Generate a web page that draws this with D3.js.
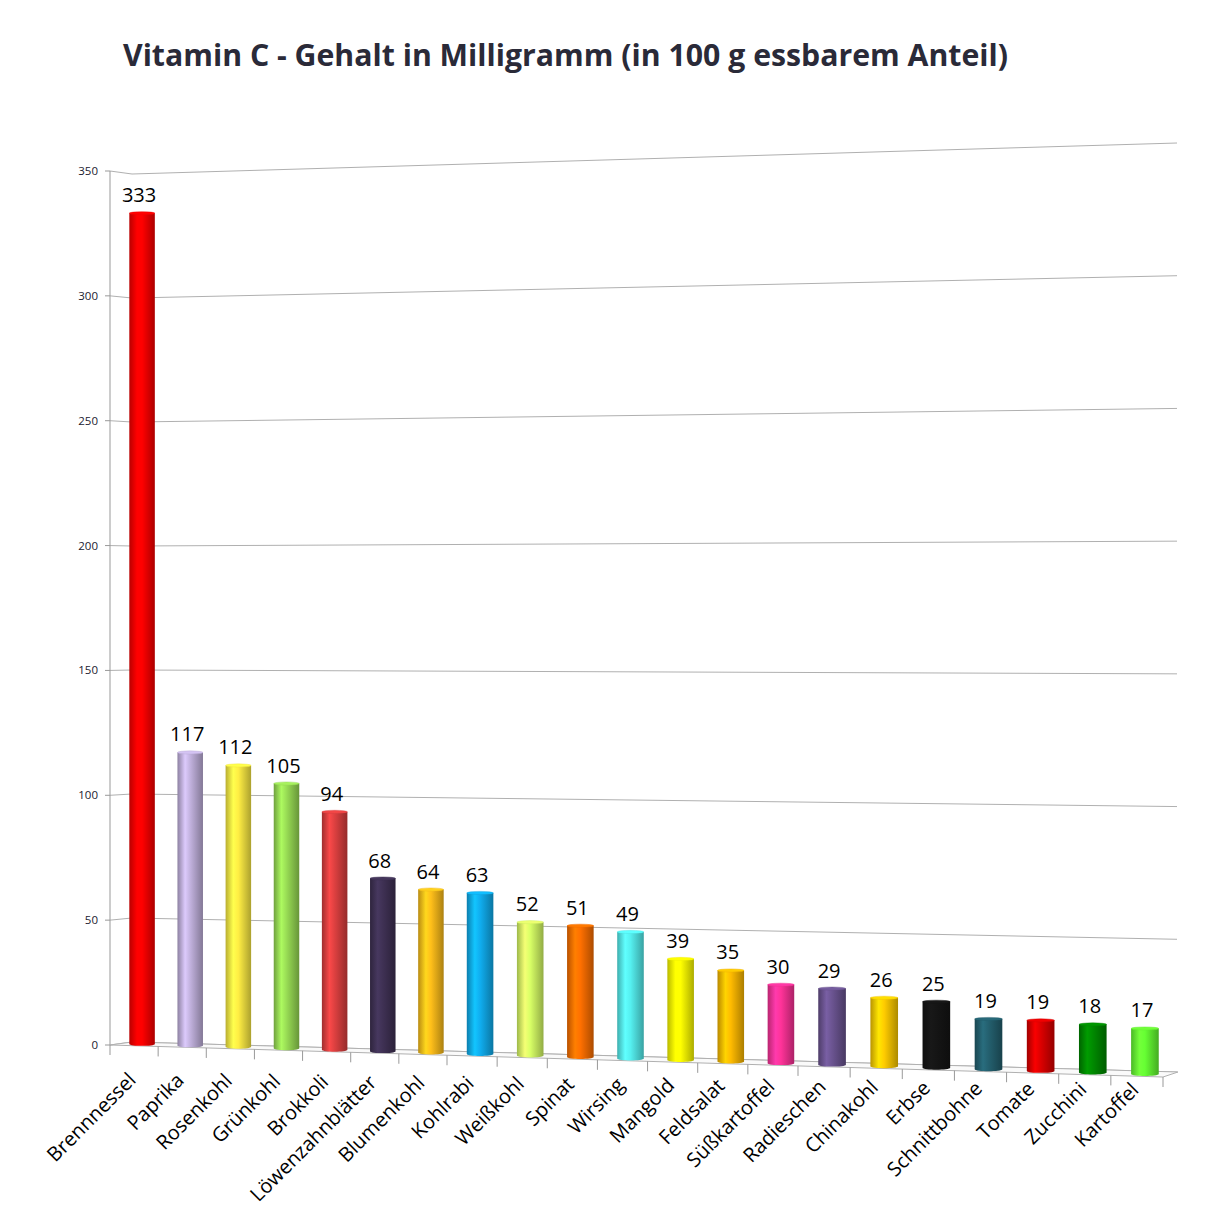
<!DOCTYPE html>
<html>
<head>
<meta charset="utf-8">
<script src="https://cdn.jsdelivr.net/npm/d3@7"></script>
<style>
  body { margin: 0; background: #fff; }
  text { font-family: "Open Sans", "DejaVu Sans", sans-serif; }
</style>
</head>
<body>
<script>
// data
const categories = ["Brennnessel", "Paprika", "Rosenkohl", "Grünkohl", "Brokkoli",
  "Löwenzahnblätter", "Blumenkohl", "Kohlrabi", "Weißkohl", "Spinat", "Wirsing",
  "Mangold", "Feldsalat", "Süßkartoffel", "Radieschen", "Chinakohl", "Erbse",
  "Schnittbohne", "Tomate", "Zucchini", "Kartoffel"];
const values = [333, 117, 112, 105, 94, 68, 64, 63, 52, 51, 49, 39, 35, 30, 29, 26, 25, 19, 19, 18, 17];
const colors = ["#ff0000", "#c2b2de", "#ffee44", "#99dd55", "#dd4040", "#3f3154", "#ffbf1a",
  "#10aef0", "#d8ff66", "#ff7000", "#55f0f0", "#ffff00", "#ffbb00", "#ff3399", "#6b5491",
  "#ffcc00", "#151515", "#24606f", "#dd0000", "#008a00", "#66ff33"];
const yTicks = [0, 50, 100, 150, 200, 250, 300, 350];
const title = "Vitamin C - Gehalt in Milligramm (in 100 g essbarem Anteil)";

const W = 1215, H = 1232;

const svg = d3.select("body").append("svg")
  .attr("width", W).attr("height", H);

// perspective: front edge tick positions along the category axis
const n = categories.length;
const frontX = d3.scaleLinear()
  .domain([0, 7, 14, n])
  .range([110, 447, 798, 1163]);
// floor front edge height as function of screen x
const floorY = d3.scaleLinear().domain([110, 1163]).range([1045, 1077]);
// bar base and pixels-per-unit change with x
const baseY = d3.scaleLinear().domain([144, 1143]).range([1044, 1074]);
const unitPx = d3.scaleLinear().domain([144, 1143]).range([2.495, 2.68]);

// value scales on the walls
const frontVal = d3.scaleLinear().domain([0, 350]).range([1045, 171]);   // x = 110
const backLeft = d3.scaleLinear().domain([0, 350]).range([1042, 174]);   // x = 132
const backRight = d3.scaleLinear().domain([0, 350]).range([1072, 143]);  // x = 1177

const grid = "#b0b0b0";

// gridlines: side wall segment + back wall line
const gl = svg.append("g").attr("fill", "none").attr("stroke", grid).attr("stroke-width", 1);
yTicks.forEach(v => {
  gl.append("path").attr("d", d3.line()([[110, frontVal(v)], [132, backLeft(v)], [1177, backRight(v)]]));
});

// y axis
svg.append("line").attr("x1", 110).attr("x2", 110)
  .attr("y1", frontVal(350)).attr("y2", frontVal(0)).attr("stroke", "#999");
const ya = svg.append("g");
yTicks.forEach(v => {
  ya.append("line").attr("x1", 105).attr("x2", 110)
    .attr("y1", frontVal(v)).attr("y2", frontVal(v)).attr("stroke", "#999");
  ya.append("text").attr("x", 98).attr("y", frontVal(v) + 4)
    .attr("text-anchor", "end").attr("font-size", 11.5).attr("fill", "#1a1a30").text(v);
});

// floor outline
svg.append("path")
  .attr("d", d3.line()([[132, backLeft(0)], [110, floorY(110)], [1163, floorY(1163)], [1178, backRight(0)], [132, backLeft(0)]]))
  .attr("fill", "#fafafa").attr("stroke", grid);

// category ticks below the front edge
d3.range(n + 1).forEach(k => {
  const x = frontX(k);
  svg.append("line").attr("x1", x).attr("x2", x)
    .attr("y1", floorY(x)).attr("y2", floorY(x) + 10).attr("stroke", "#999");
});

// gradients for the cylinders
const defs = svg.append("defs");
colors.forEach((c, i) => {
  const col = d3.color(c);
  const g = defs.append("linearGradient").attr("id", "g" + i)
    .attr("x1", "0%").attr("x2", "100%").attr("y1", "0%").attr("y2", "0%");
  g.append("stop").attr("offset", "0%").attr("stop-color", col.darker(0.9));
  g.append("stop").attr("offset", "30%").attr("stop-color", col.brighter(0.35));
  g.append("stop").attr("offset", "50%").attr("stop-color", col);
  g.append("stop").attr("offset", "100%").attr("stop-color", col.darker(1.1));
});

// bars
const bars = svg.append("g");
categories.forEach((name, i) => {
  const cx = frontX(i + 0.5) + 8;
  const w = (frontX(i + 1) - frontX(i)) * 0.53;
  const b = baseY(cx);
  const y = d3.scaleLinear().domain([0, 1]).range([b, b - unitPx(cx)]);
  const top = y(values[i]);
  const rx = w / 2, ry = 1.6;
  const col = d3.color(colors[i]);
  const p = d3.path();
  p.moveTo(cx - rx, top);
  p.lineTo(cx - rx, b);
  p.bezierCurveTo(cx - rx, b + ry * 1.6, cx + rx, b + ry * 1.6, cx + rx, b);
  p.lineTo(cx + rx, top);
  p.closePath();
  bars.append("path").attr("d", p.toString()).attr("fill", `url(#g${i})`);
  bars.append("ellipse").attr("cx", cx).attr("cy", top).attr("rx", rx).attr("ry", ry)
    .attr("fill", col.brighter(0.25)).attr("stroke", col.darker(0.2)).attr("stroke-width", 0.4);
  bars.append("text").attr("x", cx - 3).attr("y", top - 11)
    .attr("text-anchor", "middle").attr("font-size", 20).attr("fill", "#000")
    .text(values[i]);
  const lx = frontX(i + 0.5) + 3;
  const ly = 1081 + (lx - 110) * 0.01;
  svg.append("text").attr("transform", `translate(${lx},${ly}) rotate(-45)`)
    .attr("text-anchor", "end").attr("font-size", 20).attr("fill", "#000")
    .text(name);
});

// title
svg.append("text").attr("x", 123).attr("y", 66)
  .attr("font-size", 30).attr("font-weight", "bold").attr("fill", "#2a2a38")
  .attr("textLength", 885).attr("lengthAdjust", "spacingAndGlyphs")
  .text(title);
</script>
</body>
</html>
